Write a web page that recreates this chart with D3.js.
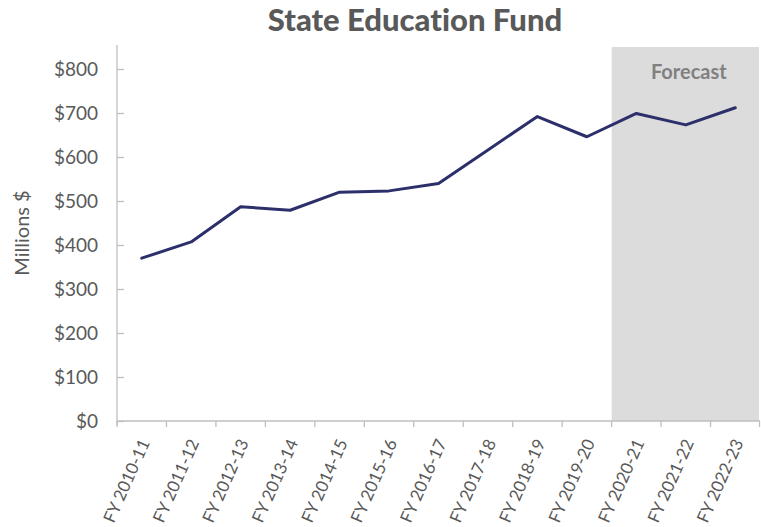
<!DOCTYPE html>
<html>
<head>
<meta charset="utf-8">
<script src="https://cdn.jsdelivr.net/npm/d3@7"></script>
<style>
  html, body { margin: 0; padding: 0; background: #ffffff; }
  svg { display: block; }
  text { font-family: Lato, "Open Sans", sans-serif; font-variant-ligatures: none; font-feature-settings: "liga" 0, "dlig" 0; }
</style>
</head>
<body>
<svg id="chart" width="761" height="527"></svg>
<script>
// Fiscal years shown on the horizontal axis
const years = ["FY 2010-11", "FY 2011-12", "FY 2012-13", "FY 2013-14", "FY 2014-15",
  "FY 2015-16", "FY 2016-17", "FY 2017-18", "FY 2018-19", "FY 2019-20",
  "FY 2020-21", "FY 2021-22", "FY 2022-23"];
// Fund revenue, millions of dollars
const fundValues = [370, 407, 487, 479, 520, 523, 540, 616, 692, 646, 699, 673, 712];
// Years that are projections rather than actuals
const forecastYears = ["FY 2020-21", "FY 2021-22", "FY 2022-23"];
// Vertical axis ticks
const yTicks = [0, 100, 200, 300, 400, 500, 600, 700, 800];

const svg = d3.select("#chart");
const m = { left: 117, right: 760, top: 47, bottom: 421 };

const x = d3.scaleBand().domain(years).range([m.left, m.right]);
const y = d3.scaleLinear().domain([0, 850]).range([m.bottom, m.top]);

// Shaded forecast band
const fx0 = x(forecastYears[0]);
const fx1 = x(forecastYears[forecastYears.length - 1]) + x.bandwidth();
svg.append("rect")
  .attr("x", fx0).attr("y", m.top)
  .attr("width", fx1 - fx0 - 1).attr("height", m.bottom - m.top)
  .attr("fill", "#dcdcdc");

svg.append("text")
  .attr("x", (fx0 + fx1) / 2 + 3).attr("y", 79)
  .attr("text-anchor", "middle")
  .attr("font-size", 20).attr("font-weight", 700)
  .attr("fill", "#808080")
  .text("Forecast");

// Y axis
const yAxis = svg.append("g")
  .attr("transform", `translate(${m.left},0)`)
  .call(d3.axisRight(y).tickValues(yTicks).tickSize(7).tickFormat(""));
yAxis.select(".domain").attr("d", `M0,${m.top - 2}V${m.bottom + 4}`);
yAxis.selectAll("line, path").attr("stroke", "#bfbfbf").attr("stroke-width", 1.3);

svg.append("g").selectAll("text").data(yTicks).join("text")
  .attr("x", 98).attr("y", d => y(d))
  .attr("dy", "0.35em")
  .attr("text-anchor", "end")
  .attr("font-size", 19)
  .attr("fill", "#595959")
  .text(d => d3.format("$,")(d));

// X axis with ticks at category boundaries
const xAxis = svg.append("g").attr("transform", `translate(0,${m.bottom})`);
xAxis.append("line")
  .attr("x1", m.left).attr("x2", m.right)
  .attr("stroke", "#bfbfbf").attr("stroke-width", 1.3);
xAxis.selectAll("line.tick").data(years.concat(["end"])).join("line")
  .attr("class", "tick")
  .attr("x1", (d, i) => i < years.length ? x(d) : m.right - 0.5)
  .attr("x2", (d, i) => i < years.length ? x(d) : m.right - 0.5)
  .attr("y1", 0).attr("y2", 6)
  .attr("stroke", "#bfbfbf").attr("stroke-width", 1.3);

svg.append("g").selectAll("text").data(years).join("text")
  .attr("transform", d => `translate(${x(d) + x.bandwidth() / 2 + 3},${m.bottom + 19}) rotate(-66)`)
  .attr("text-anchor", "end")
  .attr("dy", "0.35em")
  .attr("font-size", 17)
  .attr("fill", "#595959")
  .text(d => d);

// Fund line
const line = d3.line()
  .x((d, i) => x(years[i]) + x.bandwidth() / 2)
  .y(d => y(d));
svg.append("path")
  .datum(fundValues)
  .attr("d", line)
  .attr("fill", "none")
  .attr("stroke", "#2c2f6a")
  .attr("stroke-width", 3)
  .attr("stroke-linejoin", "round")
  .attr("stroke-linecap", "round");

// Title
svg.append("text")
  .attr("x", 415).attr("y", 31)
  .attr("text-anchor", "middle")
  .attr("font-size", 31).attr("font-weight", 900)
  .attr("fill", "#595959")
  .text("State Education Fund");

// Y axis title
svg.append("text")
  .attr("transform", "translate(29,233) rotate(-90)")
  .attr("text-anchor", "middle")
  .attr("font-size", 20)
  .attr("fill", "#595959")
  .text("Millions $");
</script>
</body>
</html>
